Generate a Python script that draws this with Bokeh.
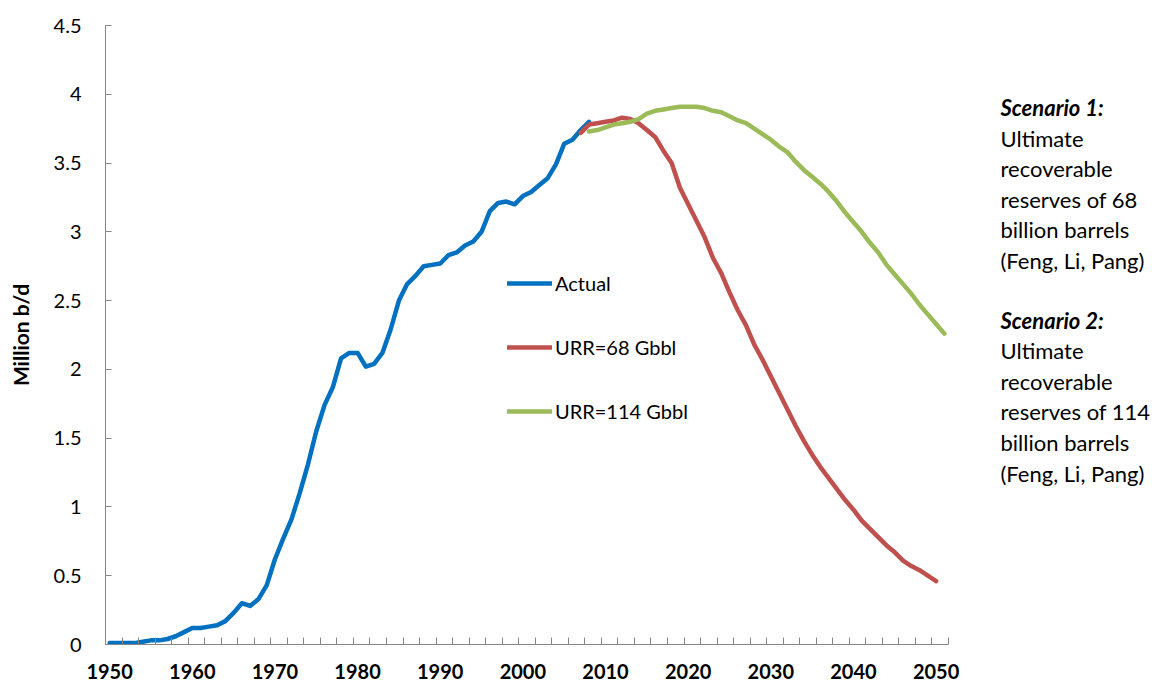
from bokeh.plotting import figure
from bokeh.layouts import row
from bokeh.models import FixedTicker, Legend, LegendItem, Label, NumeralTickFormatter
from bokeh.embed import file_html
from bokeh.resources import INLINE

# ---- data ----
years_actual = list(range(1950, 2009))
actual = [0.01, 0.01, 0.01, 0.01, 0.02, 0.03, 0.03, 0.04, 0.06, 0.09,
          0.12, 0.12, 0.13, 0.14, 0.17, 0.23, 0.30, 0.28, 0.33, 0.43,
          0.62, 0.77, 0.91, 1.10, 1.31, 1.55, 1.74, 1.87, 2.08, 2.12,
          2.12, 2.02, 2.04, 2.12, 2.29, 2.50, 2.62, 2.68, 2.75, 2.76,
          2.77, 2.83, 2.85, 2.90, 2.93, 3.00, 3.15, 3.21, 3.22, 3.20,
          3.26, 3.29, 3.34, 3.39, 3.49, 3.64, 3.67, 3.74, 3.80]

years_68 = list(range(2007, 2051))
urr_68 = [3.72, 3.78, 3.79, 3.80, 3.81, 3.83, 3.82, 3.79, 3.74, 3.69,
          3.59, 3.50, 3.32, 3.20, 3.08, 2.96, 2.81, 2.70, 2.56, 2.43,
          2.32, 2.18, 2.07, 1.95, 1.83, 1.71, 1.59, 1.48, 1.38, 1.29,
          1.21, 1.13, 1.05, 0.98, 0.90, 0.84, 0.78, 0.72, 0.67, 0.61,
          0.57, 0.54, 0.50, 0.46]

years_114 = list(range(2008, 2052))
urr_114 = [3.73, 3.74, 3.76, 3.78, 3.79, 3.80, 3.82, 3.86, 3.88, 3.89,
           3.90, 3.91, 3.91, 3.91, 3.90, 3.88, 3.87, 3.84, 3.81, 3.79,
           3.75, 3.71, 3.67, 3.62, 3.58, 3.51, 3.45, 3.40, 3.35, 3.29,
           3.22, 3.14, 3.07, 3.00, 2.92, 2.85, 2.76, 2.69, 2.62, 2.55,
           2.47, 2.40, 2.33, 2.26]

y_ticks = [0, 0.5, 1, 1.5, 2, 2.5, 3, 3.5, 4, 4.5]
x_label_years = [1950, 1960, 1970, 1980, 1990, 2000, 2010, 2020, 2030, 2040, 2050]
series_names = ["Actual", "URR=68 Gbbl", "URR=114 Gbbl"]
series_colors = ["#0070C0", "#C0504D", "#9BBB59"]

side_text = [
    ("Scenario 1:", "bold italic"),
    ("Ultimate", "normal"),
    ("recoverable", "normal"),
    ("reserves of 68", "normal"),
    ("billion barrels", "normal"),
    ("(Feng, Li, Pang)", "normal"),
    ("Scenario 2:", "bold italic"),
    ("Ultimate", "normal"),
    ("recoverable", "normal"),
    ("reserves of 114", "normal"),
    ("billion barrels", "normal"),
    ("(Feng, Li, Pang)", "normal"),
]

FONT = "Lato"
AXIS_GREY = "#868686"
TOTAL_H = 687

first_year, last_year = years_actual[0], years_114[-1]

p = figure(frame_width=843, frame_height=619,
           x_range=(first_year - 0.5, last_year + 0.5), y_range=(0, 4.5),
           output_backend="svg", toolbar_location=None,
           min_border_left=105, min_border_right=40,
           min_border_top=25, min_border_bottom=TOTAL_H - 25 - 619)
p.outline_line_color = None
p.xgrid.visible = False
p.ygrid.visible = False
p.background_fill_color = "white"

# x axis: labels every 10 years at category centres, tick marks every 2 categories at boundaries
minor = [first_year - 0.5 + 2 * k for k in range(int((last_year - first_year + 1) / 2) + 1)]
p.xaxis.ticker = FixedTicker(ticks=x_label_years, minor_ticks=minor)
p.xaxis.major_tick_in = 0
p.xaxis.major_tick_out = 0
p.xaxis.minor_tick_in = 7
p.xaxis.minor_tick_out = 0
p.xaxis.minor_tick_line_color = AXIS_GREY
p.xaxis.axis_line_color = AXIS_GREY
p.xaxis.major_label_text_font = FONT
p.xaxis.major_label_text_font_style = "bold"
p.xaxis.major_label_text_font_size = "20px"
p.xaxis.major_label_text_color = "black"
p.xaxis.major_label_standoff = 19

p.yaxis.ticker = FixedTicker(ticks=y_ticks)
p.yaxis.formatter = NumeralTickFormatter(format="0.[0]")
p.yaxis.major_tick_in = 6
p.yaxis.major_tick_out = 0
p.yaxis.minor_tick_line_color = None
p.yaxis.major_tick_line_color = AXIS_GREY
p.yaxis.axis_line_color = AXIS_GREY
p.yaxis.major_label_text_font = FONT
p.yaxis.major_label_text_font_size = "20px"
p.yaxis.major_label_text_color = "black"
p.yaxis.major_label_standoff = 24
p.yaxis.axis_label = "Million b/d"
p.yaxis.axis_label_text_font = FONT
p.yaxis.axis_label_text_font_style = "bold"
p.yaxis.axis_label_text_font_size = "21px"
p.yaxis.axis_label_text_color = "black"
p.yaxis.axis_label_standoff = 18

renderers = []
for xs, ys, c in [(years_actual, actual, series_colors[0]),
                  (years_68, urr_68, series_colors[1]),
                  (years_114, urr_114, series_colors[2])]:
    r = p.line(xs, ys, line_width=4.5, color=c, line_cap="round", line_join="round")
    renderers.append(r)

legend = Legend(items=[LegendItem(label=n, renderers=[r]) for n, r in zip(series_names, renderers)],
                location=(402, 221), glyph_width=45, glyph_height=20, label_height=20,
                spacing=40, label_standoff=3, padding=0, margin=0,
                label_text_font=FONT, label_text_font_size="20px", label_text_color="black",
                border_line_color=None, background_fill_alpha=0)
p.add_layout(legend)

# side notes panel
side = figure(width=1152 - (105 + 843 + 40), height=TOTAL_H, x_range=(0, 1), y_range=(0, 1),
              output_backend="svg", toolbar_location=None,
              x_axis_location=None, y_axis_location=None,
              min_border=0)
side.outline_line_color = None
side.xgrid.visible = False
side.ygrid.visible = False

line_step = 30.6
first_line_y = 150
for i, (txt, style) in enumerate(side_text):
    y_top = first_line_y + i * line_step + (line_step * 0.95 if i >= 6 else 0)
    side.add_layout(Label(x=12, y=TOTAL_H - y_top, x_units="screen", y_units="screen", text=txt,
                          text_font=FONT, text_font_size="22px", text_font_style=style,
                          text_baseline="middle", text_align="left", text_color="black"))

layout = row(p, side, spacing=0)
open("out.html", "w").write(file_html(layout, INLINE))
